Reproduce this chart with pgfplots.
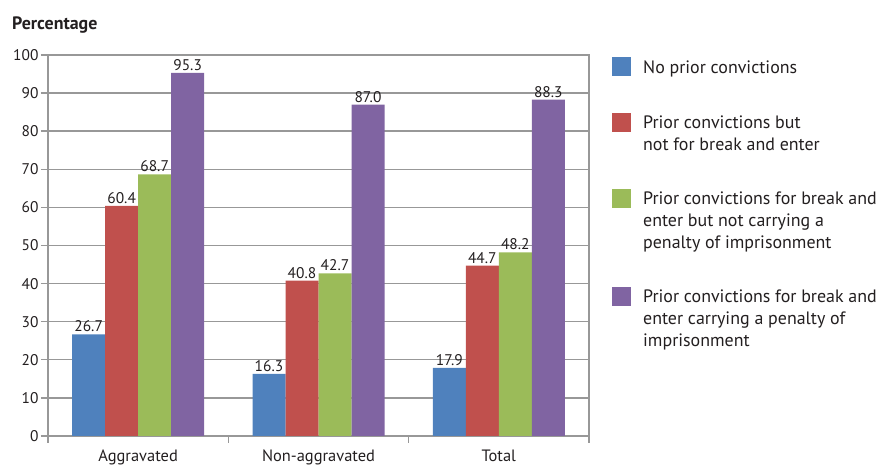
\documentclass[border=0pt]{standalone}
\usepackage{fontspec}
\setmainfont{PT Sans}
\usepackage{pgfplots}
\pgfplotsset{compat=1.18}
\definecolor{cblue}{HTML}{4F81BD}
\definecolor{cred}{HTML}{C0504D}
\definecolor{cgreen}{HTML}{9BBB59}
\definecolor{cpurple}{HTML}{8064A2}
\definecolor{txt}{HTML}{231F20}
\definecolor{gridc}{HTML}{989898}
\pgfplotsset{sq/.style={legend image code/.code={\fill[##1] (0bp,{-3bp+#1*22bp}) rectangle (19bp,{16bp+#1*22bp});}}}
\begin{document}
\begin{tikzpicture}[font=\fontsize{15}{22}\selectfont, text=txt]
\path[use as bounding box] (0,0) rectangle (895bp,475bp);
\begin{axis}[
  at={(48bp,39bp)}, anchor=south west,
  scale only axis, width=541bp, height=381bp,
  ybar=0pt, bar width=33bp,
  ymin=0, ymax=100, ytick={0,10,...,100},
  xmin=-0.5, xmax=2.5,
  xtick={0,1,2}, xticklabels={Aggravated,Non-aggravated,Total},
  minor xtick={-0.5,0.5,1.5,2.5},
  major x tick style={draw=none},
  xtick pos=bottom, ytick pos=left,
  tick align=outside, major tick length=7bp, minor tick length=7bp,
  tick style={gridc, line width=1.4bp},
  axis line style={gridc, line width=1.4bp},
  ymajorgrids, grid style={gridc, line width=1.4bp},
  /pgf/number format/assume math mode=true,
  yticklabel style={font=\fontsize{15.5}{18}\selectfont, xshift=1bp},
  xticklabel style={font=\fontsize{16.5}{18}\selectfont, yshift=-3bp},
  nodes near coords={\pgfmathprintnumber[fixed,fixed zerofill,precision=1]{\pgfplotspointmeta}},
  nodes near coords style={font=\fontsize{15.5}{18}\selectfont, text=txt, inner sep=2bp},
  legend style={draw=none, at={(1,1)}, anchor=north west, xshift=20bp, yshift=0bp,
    font=\fontsize{18}{22}\selectfont, row sep=36.5bp, column sep=10bp,
    nodes={align=left, anchor=base west, text=txt, inner ysep=0pt}},
  legend cell align=left,
]
\addplot[fill=cblue, draw=none, sq=0] coordinates {(0,26.7) (1,16.3) (2,17.9)};
\addplot[fill=cred, draw=none, sq=1] coordinates {(0,60.4) (1,40.8) (2,44.7)};
\addplot[fill=cgreen, draw=none, sq=2] coordinates {(0,68.7) (1,42.7) (2,48.2)};
\addplot[fill=cpurple, draw=none, sq=2] coordinates {(0,95.3) (1,87.0) (2,88.3)};
\legend{\strut No prior convictions\strut,
  \strut Prior convictions but\\not for break and enter\strut,
  \strut Prior convictions for break and\\enter but not carrying a\\penalty of imprisonment\strut,
  \strut Prior convictions for break and\\enter carrying a penalty of\\imprisonment\strut}
\end{axis}
\node[anchor=base west, font=\fontsize{18}{20}\selectfont\bfseries, text=txt, inner sep=0pt] at (12bp,445bp) {Percentage};
\end{tikzpicture}
\end{document}
